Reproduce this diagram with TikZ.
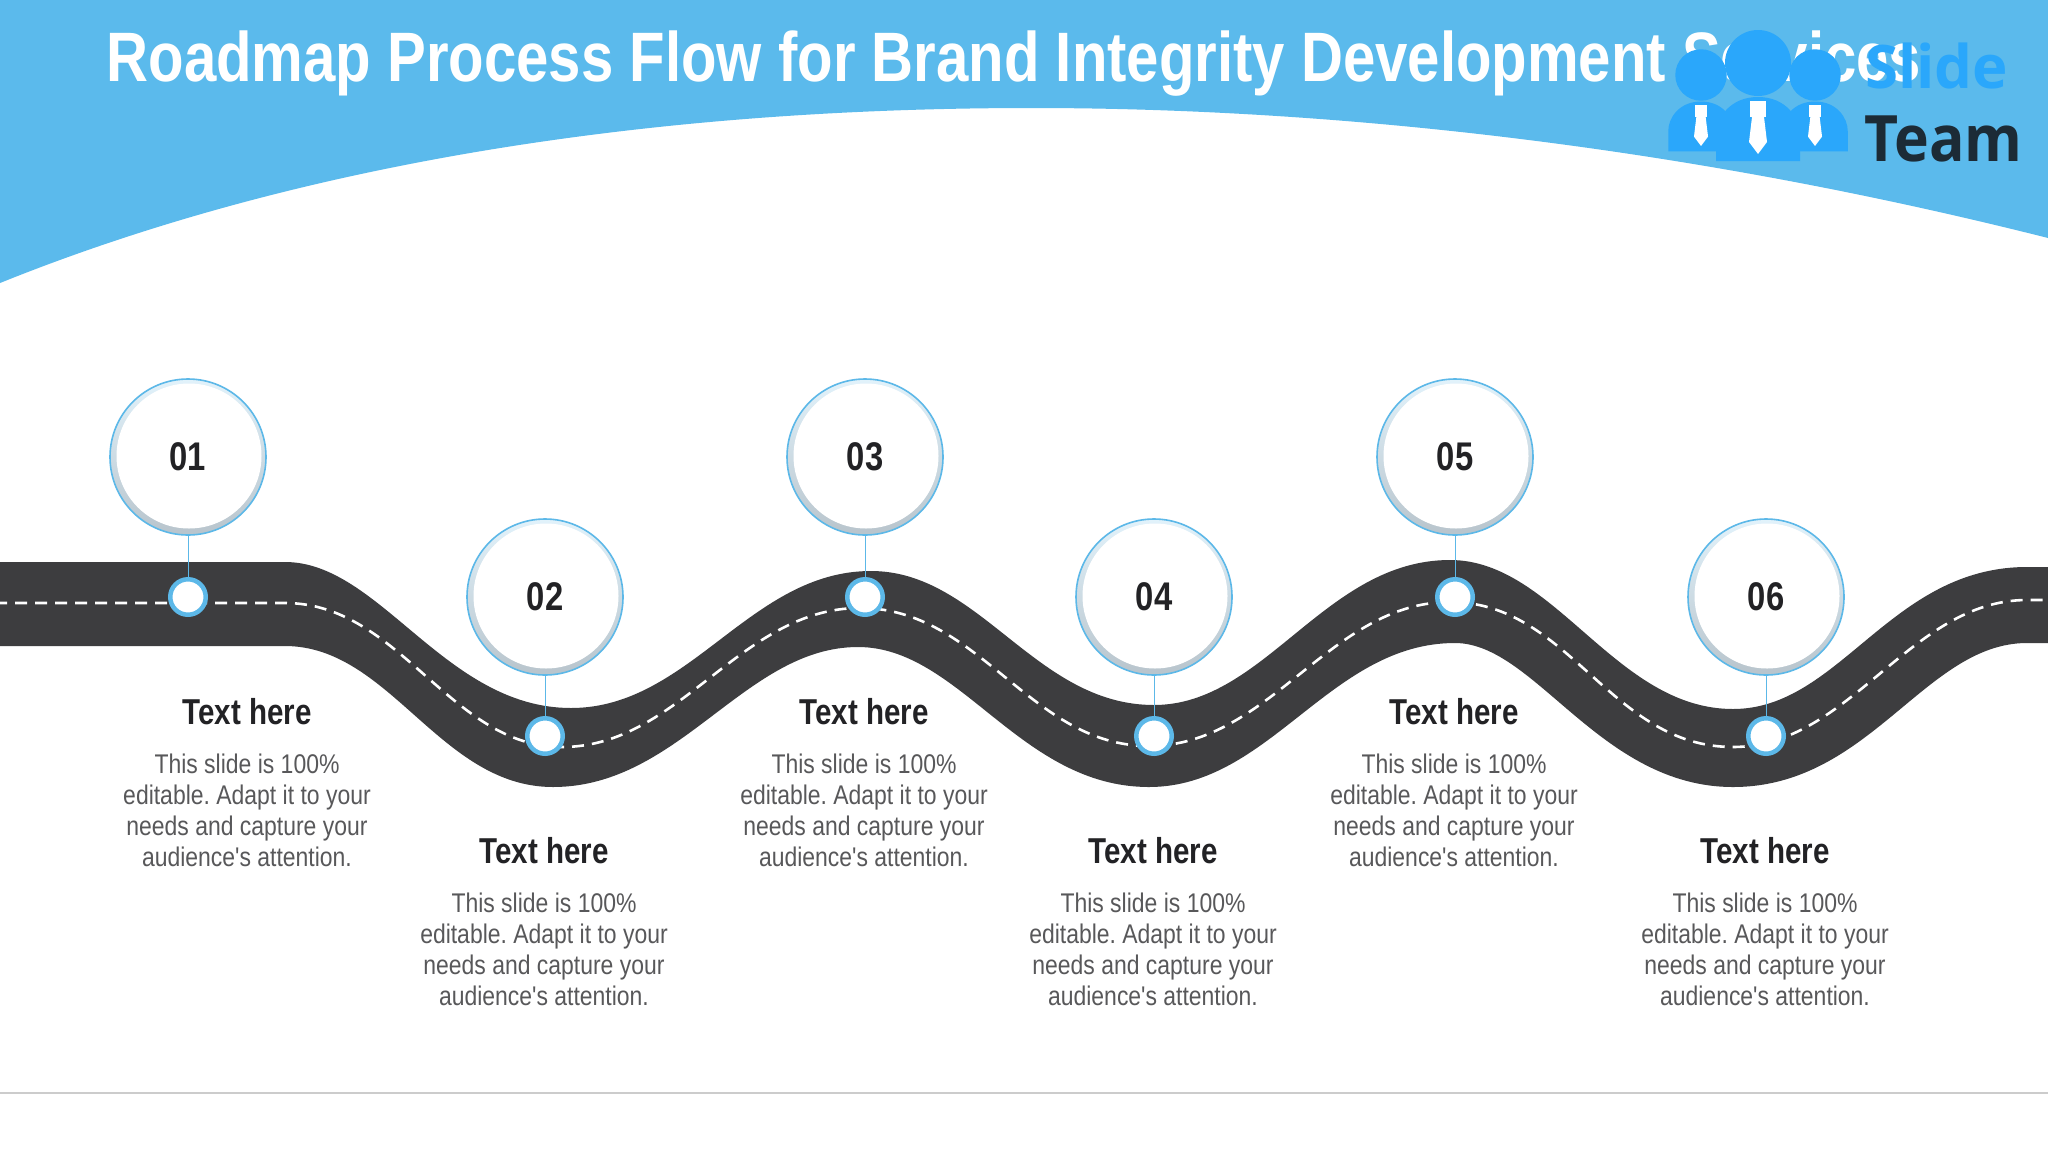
\documentclass[tikz,border=0pt]{standalone}
\usepackage{fontspec}
\setmainfont{Liberation Sans}
\newfontfamily\titlefont[FakeStretch=0.83]{Liberation Sans}
\newfontfamily\narrowfont[FakeStretch=0.82]{Liberation Sans}
\newfontfamily\copyfont[FakeStretch=0.85]{Liberation Sans}
\newfontfamily\logofont{Open Sans}
\newfontfamily\teamfont[FakeStretch=0.92]{Open Sans}
\definecolor{bandblue}{HTML}{5BBAEC}
\definecolor{logoblue}{HTML}{2AA7FB}
\definecolor{logodark}{HTML}{1C2B36}
\definecolor{roadgrey}{HTML}{3D3D3F}
\definecolor{ringblue}{HTML}{5CB8E8}
\definecolor{ringshade}{HTML}{B8C4CC}
\definecolor{headblack}{HTML}{222225}
\definecolor{bodygrey}{HTML}{58585A}
\tikzset{
  ringcircle/.style={circle,draw=ringblue,line width=1.6pt,minimum size=156pt,inner sep=0pt,
    shade,shading angle=-45,top color=ringblue!18,bottom color=ringshade,
    path picture={\fill[white] ([xshift=1pt,yshift=1pt]path picture bounding box.center) circle (72.5pt);},
    font=\narrowfont\bfseries\fontsize{40}{40}\selectfont,text=headblack},
  stopdot/.style={circle,draw=ringblue,line width=4.5pt,fill=white,minimum size=35.5pt,inner sep=0pt},
  stem/.style={draw=ringblue,line width=1pt},
  headtext/.style={font=\narrowfont\bfseries\fontsize{36}{36}\selectfont,text=headblack},
  bodytext/.style={font=\copyfont\frenchspacing\fontsize{27}{31}\selectfont,text=bodygrey,align=center}
}
\newcommand{\logoperson}[3]{
  \begin{scope}[shift={(#1,#2)},scale=#3]
    \fill[logoblue] (0,0) circle (33pt);
    \fill[logoblue] (-42,98) -- (-42,72) .. controls (-42,55) and (-28,34) .. (0,34)
      .. controls (28,34) and (42,55) .. (42,72) -- (42,98) -- cycle;
    \fill[white] (-8,38) rectangle (8,54);
    \fill[white] (-6,54) -- (-9,79) -- (0,91) -- (9,79) -- (6,54) -- cycle;
  \end{scope}
}

\begin{document}
\begin{tikzpicture}[x=1pt,y=-1pt,node distance=99pt]
  \useasboundingbox (0,0) rectangle (2048,1152);
  \fill[white] (0,0) rectangle (2048,1152);
  % header band
  \fill[bandblue] (0,0) -- (0,283) .. controls (330,150) and (700,108) .. (1032,108)
    .. controls (1350,108) and (1700,150) .. (2048,238) -- (2048,0) -- cycle;
  \node[font=\titlefont\bfseries\fontsize{70}{70}\selectfont,text=white,anchor=base] (title) at (1014,81)
    {Roadmap Process Flow for Brand Integrity Development Services};
  % logo
  \logoperson{1701}{75}{0.78}
  \logoperson{1815}{75}{0.78}
  \logoperson{1758}{63}{1}
  \node[font=\logofont\bfseries\fontsize{60}{60}\selectfont,text=logoblue,anchor=base west,inner sep=0pt] (slide) at (1865,88) {Slide};
  \node[font=\teamfont\bfseries\fontsize{64}{64}\selectfont,text=logodark,anchor=base west,inner sep=0pt] (team) at (1864,161) {Team};
  % road
  \fill[roadgrey] (-5,562) -- (285,562) .. controls (380,562) and (445,708) .. (571,708)
    .. controls (690,708) and (750,571) .. (871,571)
    .. controls (980,571) and (1035,705) .. (1154,705)
    .. controls (1265,705) and (1325,560) .. (1450,560)
    .. controls (1555,560) and (1615,709) .. (1733,709)
    .. controls (1840,709) and (1890,567) .. (2027,567) -- (2053,567)
    -- (2053,643) -- (2027,643)
    .. controls (1925,643) and (1870,787) .. (1733,787)
    .. controls (1600,787) and (1535,643) .. (1455,643)
    .. controls (1330,643) and (1270,787) .. (1149,787)
    .. controls (1020,787) and (960,647) .. (858,647)
    .. controls (745,647) and (680,787) .. (553,787)
    .. controls (440,787) and (390,646) .. (285,646) -- (-5,646) -- cycle;
  \draw[white,line width=2.6pt,dash pattern=on 12pt off 8pt] (-5,603) -- (285,603)
    .. controls (400,603) and (450,747) .. (562,747)
    .. controls (680,747) and (740,608) .. (860,608)
    .. controls (980,608) and (1030,746) .. (1149,746)
    .. controls (1270,746) and (1330,602) .. (1450,602)
    .. controls (1570,602) and (1610,747) .. (1733,747)
    .. controls (1850,747) and (1910,600) .. (2027,600) -- (2053,600);
  % bottom rule
  \draw[black!20,line width=1.2pt] (0,1093) coordinate (ruleL) -- (2048,1093) coordinate (ruleR);
  % stops
  \foreach \id/\num/\cx/\cy/\dy/\tx/\hy in {1/01/188/457/597/247/712,2/02/545/597/736/544/851,
      3/03/865/457/597/864/712,4/04/1154/597/736/1153/851,
      5/05/1455/457/597/1454/712,6/06/1766/597/736/1765/851}{
    \node[ringcircle] (c\id) at (\cx,\cy) {\num};
    \node[stopdot] (d\id) at (\cx,\dy) {};
    \draw[stem] (c\id) -- (d\id);
    \node[headtext] (h\id) at (\tx,\hy) {Text here};
    \node[bodytext,below of=h\id,yshift=1pt] (b\id) {This slide is 100\%\\editable. Adapt it to your\\needs and capture your\\audience's attention.};
  }
\end{tikzpicture}
\end{document}
